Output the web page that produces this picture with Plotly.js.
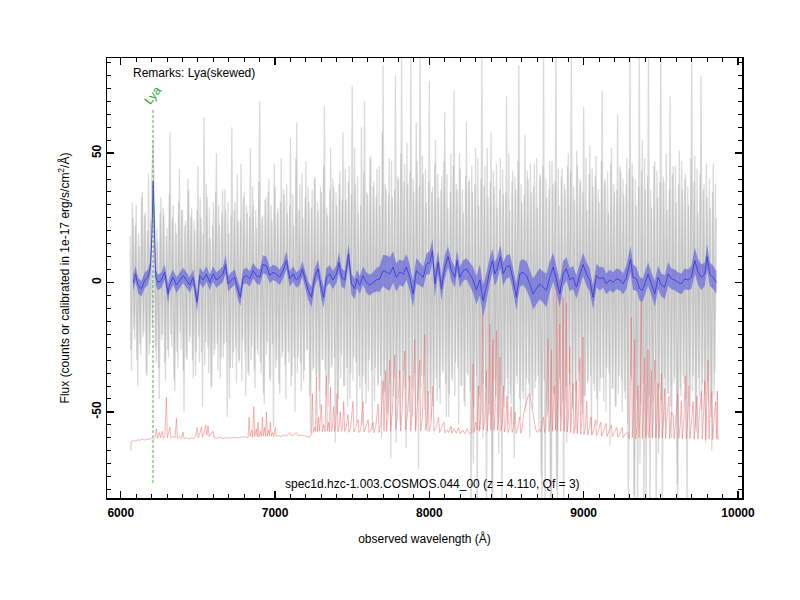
<!DOCTYPE html>
<html><head><meta charset="utf-8">
<script src="https://cdn.plot.ly/plotly-3.0.1.min.js"></script>
<style>html,body{margin:0;padding:0;background:#fff}#chart{width:800px;height:600px}</style>
</head><body><div id="chart"></div>
<script>
// raw spectrum: samples at 6060, 6070, ... Å (rawFluxA) and 6065, 6075, ... Å (rawFluxB)
const rawStart = 6060;
const rawStep = 10;
const rawFluxA = [
 18,-34,25,-22,30,-40,14,-28,35,-19,27,-36,42,-24,38,55,22,-31,16,-45,
 33,-20,26,-38,21,-29,58,-25,30,-42,19,-33,44,-26,28,-50,24,-30,36,-21,
 29,-37,20,-27,45,-31,25,-48,64,-23,33,-35,17,-40,31,-26,50,-34,22,-29,
 36,-24,28,-52,19,-33,60,-27,31,-39,24,-30,46,-22,35,-44,27,-36,52,-25,
 30,-41,21,-28,70,-35,26,-47,33,-23,40,-38,24,-56,37,-30,29,-43,48,-27,
 34,-45,27,-31,56,-36,22,-50,62,-29,38,-42,25,-34,47,-26,31,-58,36,-33,
 41,-37,28,-49,35,-30,68,-44,26,-39,52,-32,37,-62,30,-45,43,-28,58,-40,
 32,-48,45,-35,76,-29,38,-54,27,-41,60,-36,70,-47,34,-30,49,-57,39,-33,
 44,-39,30,-60,84,-42,36,-51,48,-68,33,-37,80,-45,40,-55,88,-34,46,-64,
 38,-50,90,-41,35,-58,47,-72,92,-36,42,-49,31,-44,78,-53,37,-40,55,-46,
 33,-47,41,-35,66,-52,29,-43,50,-38,74,-31,36,-55,44,-40,27,-48,62,-36,
 40,-95,35,-48,52,-92,30,-57,88,-39,45,-95,33,-51,58,-90,37,-44,29,-66,
 48,-88,34,-42,72,-55,28,-47,43,-68,36,-39,84,-53,31,-45,57,-37,40,-60,
 35,-49,46,-38,29,-56,41,-95,92,-93,33,-50,47,-92,38,-43,92,-95,30,-52,
 44,-91,36,-62,50,-40,90,-48,32,-57,45,-35,39,-51,68,-44,28,-38,53,-59,
 37,-42,49,-55,31,-37,74,-46,40,-33,27,-63,52,-41,35,-48,65,-36,43,-50,
 34,-45,48,-95,92,-38,41,-92,30,-95,90,-47,55,-93,36,-59,92,-94,29,-46,
 47,-92,33,-41,92,-95,39,-54,28,-43,72,-60,45,-37,31,-90,51,-44,36,-39,
 42,-93,30,-48,86,-36,49,-58,27,-44,80,-39,38,-62,33,-47,29,-65,46,-35,
 25
];
const rawFluxB = [
 -26,31,-18,22,-30,19,-24,33,-21,26,-35,20,-28,24,-17,30,-25,21,-33,27,
 -22,29,-31,18,-26,34,-20,25,-38,23,-27,31,-19,28,-34,22,-29,40,-23,26,
 -30,24,-36,28,-21,33,-27,19,-32,38,-25,29,-41,22,-28,35,-24,30,-37,27,
 -29,36,-23,31,-45,26,-33,28,-25,42,-31,24,-38,33,-27,30,-35,25,-30,37,
 -34,28,-26,39,-31,25,-43,32,-28,35,-37,30,-24,46,-33,27,-39,31,-29,36,
 -32,38,-27,30,-40,34,-29,48,-35,28,-31,42,-38,33,-26,37,-44,29,-34,40,
 -36,31,-42,37,-30,45,-34,29,-48,36,-33,40,-29,35,-51,38,-37,32,-40,44,
 -33,39,-45,34,-38,52,-31,41,-36,30,-55,43,-39,35,-42,48,-34,37,-46,33,
 -40,45,-36,58,-43,38,-50,34,-39,47,-44,36,-62,41,-37,50,-45,39,-41,54,
 -38,43,-52,40,-35,62,-46,37,-41,49,-36,44,-58,39,-43,35,-48,46,-37,42,
 -41,36,-34,47,-39,42,-52,35,-37,45,-44,38,-33,50,-40,36,-46,41,-35,39,
 -42,45,-70,38,-36,48,-44,40,-60,37,-41,52,-47,39,-85,43,-38,46,-52,36,
 -40,44,-48,35,-37,50,-43,39,-55,41,-36,47,-45,38,-42,34,-50,43,-39,46,
 -44,37,-41,48,-36,42,-75,45,-38,40,-52,36,-90,47,-43,39,-80,44,-37,41,
 -46,38,-40,45,-35,43,-49,37,-42,51,-38,40,-47,35,-44,48,-39,42,-36,44,
 -39,41,-45,36,-42,47,-37,39,-50,43,-35,46,-41,38,-48,36,-43,45,-38,40,
 -42,38,-55,44,-36,46,-82,40,-45,37,-70,43,-39,48,-88,41,-44,36,-60,45,
 -38,43,-66,39,-46,41,-37,50,-43,36,-48,42,-39,45,-78,38,-41,47,-36,40,
 -45,37,-40,48,-42,39,-56,44,-37,42,-49,36,-43,46,-38,40,-52,35,-44,38
];

// smoothed spectrum and its error
const smoothWave = [
 6080,6097,6112,6134,6155,6177,6192,6202,6210,6218,
 6227,6242,6264,6285,6307,6318,6339,6361,6382,6404,
 6426,6447,6469,6495,6512,6534,6555,6577,6598,6620,
 6642,6663,6680,6696,6717,6739,6760,6775,6793,6814,
 6836,6858,6879,6901,6922,6944,6966,6987,7009,7030,
 7052,7074,7095,7117,7138,7160,7177,7192,7214,7236,
 7257,7279,7300,7315,7333,7354,7376,7398,7415,7430,
 7452,7477,7495,7516,7531,7549,7570,7592,7614,7635,
 7657,7678,7700,7722,7743,7765,7786,7808,7830,7851,
 7873,7894,7916,7938,7960,7981,8003,8020,8035,8057,
 8078,8100,8121,8143,8165,8180,8197,8219,8240,8262,
 8283,8305,8327,8348,8370,8391,8409,8424,8439,8461,
 8478,8499,8521,8543,8564,8586,8607,8629,8651,8672,
 8694,8715,8737,8759,8780,8802,8823,8845,8867,8888,
 8910,8931,8953,8975,8996,9018,9039,9061,9083,9104,
 9126,9147,9169,9191,9212,9234,9255,9277,9303,9320,
 9342,9363,9381,9396,9417,9439,9461,9482,9504,9525,
 9547,9569,9590,9612,9633,9655,9677,9698,9720,9741,
 9763,9785,9800,9817,9839,9860
];
const smoothFlux = [
 0,3.3,-1.2,-2.4,0.8,2,6,18,39,16,
 2,0,1,4,-4.4,-0.5,2,-1,1,2.7,
 1,-1,2,-7.6,2.7,1,3.3,0,3.3,1,
 2,3.3,7,-0.5,1,2,-3,-5.7,2,2.7,
 1.4,4.6,2.7,2,7,6.5,2.7,4,3.3,2,
 4.6,8.5,1.4,3.3,1,2,5.3,2,-3,-5.7,
 2,5.3,-2.4,-5.7,2,3.3,1,3.3,7.8,2,
 1,11,-0.5,-2.4,1.4,-1,2.7,0,-1,0,
 1,1.4,4.6,4,3.3,6,2,4,3.3,6,
 2,-4.4,4.6,3.3,2,7,7.8,12.3,-0.5,7.8,
 -2.4,6,10,4.6,2,8.5,2,4.6,5.3,3.3,
 1,-3,1,-7,-1.8,4.6,8.5,3.3,5.3,10,
 3.3,6,6.5,1,-5.7,3.3,4,2.7,-0.5,-4.4,
 -2.4,-0.5,-1.8,-3,2,6,1.4,-4.4,3.3,5.3,
 1,2,-1.8,3.3,7,3.3,1,-5.7,2.7,1.4,
 2,-0.5,1,0,1.4,1,-0.5,2,9,2,
 1.4,-2.4,-3,-0.5,3.3,-0.5,-4.4,2,-1,-1.8,
 3.3,1.4,1,0,-0.5,1.4,1,2,8.5,4,
 2,3.3,10,3.3,2,0
];
const smoothErr = [
 3,3,3,3,3,3,2.5,3,3,2.5,
 3,3,3,3,3.5,3,3,3,3,3,
 3,3,3,3.5,3,3,3,3,3,3,
 3,3,3.5,3,3,3,3.5,3.5,3,3,
 3,3,3,3,3.5,3.5,3,3,3,3,
 3,3.5,3,3,3,3,3,3,3.5,4,
 3.5,3.5,4,4,3.5,3.5,3.5,3.5,4,3.5,
 3.5,4,4,4,3.5,3.5,3.5,4,4,4,
 4.5,5,6,6.5,6.5,6,5.5,5,5,5,
 5,5,5,4.5,4,4,4.5,4.5,5,4.5,
 4.5,4.5,4,4,4,4,4,4,4,4.5,
 5,5.5,6,6,5.5,5,4.5,4.5,4.5,4.5,
 4.5,4.5,4.5,4.5,5,5,5,5.5,5.5,6,
 6,6,6,6.5,6,5.5,5,5,5,4.5,
 4.5,4.5,4.5,4.5,4.5,4.5,4.5,4.5,4.5,4.5,
 4,4,4,4,4,4,4,4.5,5,5,
 4.5,4.5,4.5,4.5,4.5,4.5,5,4.5,4.5,4.5,
 4.5,4,4,4,4,4,4,4.5,5,5,
 5,4.5,5,4.5,4.5,4.5
];

// sky spectrum (scaled, shown offset at bottom)
const skyWave = [
 6065,6068,6080,6095,6110,6125,6140,6155,6170,6185,
 6200,6212,6222,6231,6238,6250,6258,6268,6276,6286,
 6296,6302,6310,6318,6325,6340,6352,6361,6367,6380,
 6393,6404,6410,6425,6440,6455,6470,6485,6495,6502,
 6512,6523,6530,6540,6551,6558,6566,6573,6585,6598,
 6605,6620,6640,6660,6680,6700,6720,6740,6760,6780,
 6800,6815,6825,6832,6838,6848,6855,6862,6868,6878,
 6884,6890,6896,6905,6912,6918,6924,6932,6938,6944,
 6950,6958,6964,6970,6976,6985,6992,7002,7008,7025,
 7040,7055,7070,7085,7095,7105,7120,7138,7150,7170,
 7190,7210,7228,7236,7242,7248,7256,7262,7268,7274,
 7282,7288,7300,7306,7316,7324,7333,7339,7346,7352,
 7359,7365,7372,7380,7386,7394,7402,7408,7415,7423,
 7430,7437,7445,7451,7460,7473,7479,7490,7505,7511,
 7522,7538,7544,7555,7570,7576,7588,7603,7609,7620,
 7635,7641,7652,7668,7674,7685,7700,7706,7717,7723,
 7732,7743,7749,7760,7776,7782,7792,7808,7814,7824,
 7840,7846,7858,7873,7879,7890,7905,7911,7922,7938,
 7944,7955,7970,7976,7985,7992,7998,8010,8024,8030,
 8045,8060,8066,8080,8095,8101,8115,8125,8140,8146,
 8160,8175,8190,8200,8215,8230,8245,8260,8275,8283,
 8289,8300,8310,8318,8324,8335,8344,8350,8360,8370,
 8376,8384,8392,8398,8406,8413,8419,8427,8435,8441,
 8450,8458,8464,8472,8480,8486,8494,8503,8509,8520,
 8530,8536,8545,8556,8562,8572,8586,8592,8602,8612,
 8620,8630,8640,8650,8655,8662,8670,8680,8690,8700,
 8712,8720,8730,8740,8746,8755,8764,8769,8775,8785,
 8792,8798,8810,8818,8823,8829,8837,8845,8851,8858,
 8867,8873,8880,8888,8894,8902,8910,8916,8924,8931,
 8937,8945,8953,8959,8967,8975,8981,8990,8996,9002,
 9012,9020,9026,9038,9048,9054,9066,9078,9084,9095,
 9110,9116,9128,9145,9151,9162,9180,9186,9200,9215,
 9221,9235,9250,9256,9270,9285,9296,9303,9309,9315,
 9320,9331,9337,9345,9352,9358,9366,9374,9380,9388,
 9396,9402,9410,9417,9423,9430,9439,9445,9452,9461,
 9467,9474,9482,9488,9496,9504,9510,9517,9525,9531,
 9540,9552,9558,9568,9580,9586,9595,9610,9616,9626,
 9633,9639,9650,9658,9664,9672,9683,9689,9698,9710,
 9716,9724,9735,9741,9750,9763,9769,9776,9785,9791,
 9798,9806,9812,9820,9830,9836,9845,9855,9862,9866,
 9870
];
const skyFlux = [
 -65,-61.5,-61,-61.3,-60.8,-61,-60.6,-60.9,-60.5,-60.7,
 -60.3,-60.6,-60,-56.5,-60.2,-58,-60,-57.5,-60.3,-59,
 -44.3,-60,-58,-56,-60.2,-59.5,-60,-52.6,-60.3,-59.5,
 -60.2,-57.8,-60.4,-60,-60.5,-60,-60.4,-59.5,-56,-60,
 -58.5,-55.8,-59.8,-58,-55,-59,-55.5,-59.5,-58.5,-57.5,
 -60,-60.2,-59.8,-60.3,-60,-60.2,-59.8,-60,-60.1,-59.8,
 -59.6,-59.9,-60.1,-52,-59.5,-57,-59.8,-48,-59.5,-56.5,
 -59.6,-54,-59.7,-57.5,-59.5,-52,-59.3,-56,-59.4,-50,
 -59.4,-57,-59.2,-54,-59.5,-58,-59.6,-56,-59.4,-59.2,
 -59.5,-59,-59.3,-58.8,-58,-59.2,-59,-58,-59.3,-59,
 -59.4,-59.6,-59.8,-58.5,-43,-58,-56,-57.5,-36.5,-57.8,
 -52,-57.5,-47,-57.6,-55,-57.6,-36,-57.4,-54,-57.7,
 -40.5,-57.5,-56,-48,-57.6,-55,-43,-57.8,-56,-50,
 -57.5,-56.5,-46,-57.6,-56,-51,-57.9,-56,-46,-57.8,
 -56,-53,-58,-57,-46,-57.8,-56,-53,-58,-57,
 -54,-58,-56,-47,-58,-55,-38,-57.5,-34,-57.5,
 -52,-30,-57.5,-50,-28,-57,-52,-34,-57.5,-49,
 -26.5,-57,-51,-36,-57.5,-50,-22,-57,-48,-30,
 -57.5,-52,-20,-57,-54,-42,-57.5,-55,-40,-57.5,
 -56,-52,-58,-56,-54,-58.2,-57,-58,-55.5,-58.3,
 -56.5,-58.2,-56,-58.5,-57,-58.4,-56.5,-58.5,-58,-31.4,
 -58,-54,-57,-40,-57.5,-50,-10.8,-57,-52,-34,
 -57.5,-48,-16,-57,-46,-22,-57.2,-49,-18.5,-57,
 -52,-28.8,-57.5,-54,-40,-57.8,-56,-44,-58,-56.5,
 -48,-58,-56.5,-50,-58.3,-56.5,-52,-58.3,-56,-50,
 -48,-46,-44,-43,-45,-47,-50,-54,-57,-58,
 -56.5,-57.8,-54,-52,-58,-56,-30,-22,-57.5,-52,
 -26,-57.5,-40,-57,3.5,-57.5,-42,-16,-57.5,-50,
 -5.7,-57.5,-46,-8,-57.8,-52,-25,-58,-48,-39,
 -58.4,-54,-38,-58.5,-48,-29,-58.6,-52,-21,-58.8,
 -56,-46,-59,-56,-52,-59,-57,-53,-59.2,-57.5,
 -54,-59.4,-57.5,-54.5,-59.5,-58,-55,-59.6,-57.5,-56,
 -59.8,-58.5,-56,-60,-58.5,-58,-60.5,-40,-13.4,-60,
 -52,-22,-60.5,-56,-40,-60,-50,-7,-60.3,-48,
 -29,-60,-50,-26,-60,-52,-34,-60.2,-52,-30,
 -60,-54,-39,-60.3,-50,-35,-60,-54,-41,-60.3,
 -52,-44,-60.5,-50,-51,-60.4,-54,-43,-60.2,-55,
 -46,-60.4,-52,-36,-60.5,-56,-40,-60.3,-54,-46,
 -60.6,-54,-44,-60.5,-50,-42,-60.4,-52,-38,-60.6,
 -48,-30,-60.5,-47,-42,-60.7,-52,-46,-60.3,-42,
 -61
];

const lyaWave = 6209;
const xTickVals = [6000, 7000, 8000, 9000, 10000];
const yTickVals = [-50, 0, 50];

const rawWaveA = rawFluxA.map((_, i) => rawStart + i * rawStep);
const rawWaveB = rawFluxB.map((_, i) => rawStart + i * rawStep + rawStep / 2);
const upper = smoothFlux.map((v, i) => v + (smoothErr[i] ?? 4));
const lower = smoothFlux.map((v, i) => v - (smoothErr[i] ?? 4));
const none = {width: 0, color: 'rgba(0,0,0,0)'};
const rawLine = {color: 'rgba(150,150,150,0.36)', width: 1.25};

const traces = [
  {x: rawWaveA, y: rawFluxA, type: 'scatter', mode: 'lines', line: rawLine, hoverinfo: 'skip'},
  {x: rawWaveB, y: rawFluxB, type: 'scatter', mode: 'lines', line: rawLine, hoverinfo: 'skip'},
  {x: skyWave, y: skyFlux, type: 'scatter', mode: 'lines',
   line: {color: 'rgba(238,105,105,0.7)', width: 0.7}, hoverinfo: 'skip'},
  {x: smoothWave, y: upper, type: 'scatter', mode: 'lines', line: none, hoverinfo: 'skip'},
  {x: smoothWave, y: lower, type: 'scatter', mode: 'lines', fill: 'tonexty',
   fillcolor: 'rgba(90,90,225,0.62)', line: none, hoverinfo: 'skip'},
  {x: smoothWave, y: smoothFlux, type: 'scatter', mode: 'lines',
   line: {color: '#3c3cd8', width: 0.9}, hoverinfo: 'skip'}
];

const FONT = '"Liberation Sans", Arial, Helvetica, sans-serif';
const layout = {
  width: 800, height: 600,
  margin: {l: 107, r: 58, t: 58, b: 102},
  paper_bgcolor: '#ffffff', plot_bgcolor: '#ffffff',
  showlegend: false,
  font: {family: FONT, size: 12, color: '#000'},
  xaxis: {
    range: [5911, 10026], automargin: false,
    tickmode: 'array', tickvals: xTickVals, ticktext: xTickVals.map(String),
    ticks: 'inside', ticklen: 7, tickwidth: 1.5, tickcolor: '#000', ticklabelstandoff: 3,
    showline: true, linecolor: '#000', linewidth: 1.5, mirror: 'allticks',
    showgrid: false, zeroline: false,
    tickfont: {family: FONT, size: 12, weight: 'bold', color: '#000'},
    minor: {tickmode: 'linear', tick0: 0, dtick: 100, ticks: 'inside', ticklen: 4, tickwidth: 1, tickcolor: '#000', showgrid: false},
    title: {text: 'observed wavelength (Å)', font: {family: FONT, size: 12}, standoff: 15}
  },
  yaxis: {
    range: [-83.3, 86.8], automargin: false,
    tickmode: 'array', tickvals: yTickVals, ticktext: yTickVals.map(String), tickangle: -90,
    ticks: 'inside', ticklen: 7, tickwidth: 1.5, tickcolor: '#000',
    showline: true, linecolor: '#000', linewidth: 1.5, mirror: 'allticks',
    showgrid: false, zeroline: false,
    tickfont: {family: FONT, size: 12, weight: 'bold', color: '#000'},
    minor: {tickmode: 'linear', tick0: 0, dtick: 5, ticks: 'inside', ticklen: 4, tickwidth: 1, tickcolor: '#000', showgrid: false},
    title: {text: 'Flux (counts or calibrated in 1e-17 erg/s/cm<sup>2</sup>/Å)', font: {family: FONT, size: 12}, standoff: 17}
  },
  shapes: [
    {type: 'line', xref: 'x', yref: 'paper', x0: lyaWave, x1: lyaWave, y0: 0.034, y1: 0.886,
     line: {color: '#1f9e1f', width: 0.8, dash: '3px,2px'}, layer: 'above'}
  ],
  annotations: [
    {text: 'Remarks: Lya(skewed)', xref: 'paper', yref: 'paper', x: 0.0378, y: 0.966,
     xanchor: 'left', yanchor: 'middle', showarrow: false, font: {family: FONT, size: 12, color: '#000'}},
    {text: 'Lya', xref: 'x', yref: 'y', x: lyaWave, y: 72.5, textangle: -52,
     xanchor: 'center', yanchor: 'middle', showarrow: false, font: {family: FONT, size: 12, color: '#1f9e1f'}},
    {text: 'spec1d.hzc-1.003.COSMOS.044_00 (z = 4.110, Qf = 3)', xref: 'paper', yref: 'paper', x: 0.513, y: 0.032,
     xanchor: 'center', yanchor: 'middle', showarrow: false, font: {family: FONT, size: 12, color: '#000'}}
  ]
};

Plotly.newPlot('chart', traces, layout, {staticPlot: true, displayModeBar: false});
</script>
</body></html>
